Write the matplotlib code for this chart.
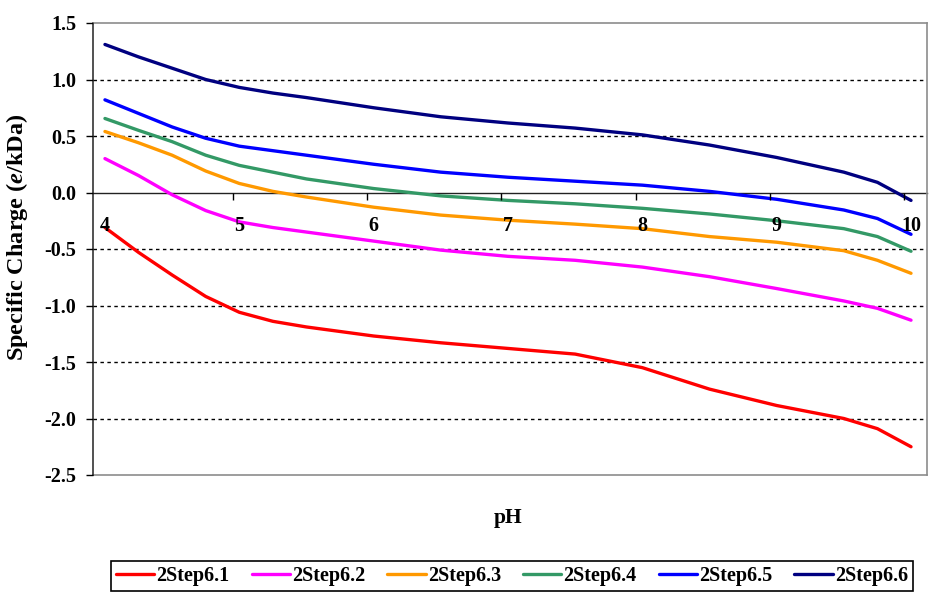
import matplotlib
matplotlib.use("Agg")
import matplotlib.pyplot as plt

# pH grid and specific charge (e/kDa) for each construct
ph = [4.0, 4.25, 4.5, 4.75, 5.0, 5.25, 5.5, 6.0, 6.5, 7.0, 7.5, 8.0, 8.5, 9.0, 9.5, 9.75, 10.0]

step6_1 = [-0.31, -0.53, -0.73, -0.92, -1.06, -1.14, -1.19, -1.27, -1.33, -1.38, -1.43, -1.55, -1.74, -1.885, -2.00, -2.09, -2.25]
step6_2 = [0.30, 0.15, -0.02, -0.16, -0.26, -0.31, -0.35, -0.43, -0.51, -0.565, -0.60, -0.66, -0.745, -0.85, -0.96, -1.025, -1.13]
step6_3 = [0.54, 0.44, 0.33, 0.19, 0.08, 0.01, -0.04, -0.13, -0.20, -0.245, -0.28, -0.32, -0.39, -0.44, -0.515, -0.60, -0.715]
step6_4 = [0.655, 0.55, 0.45, 0.33, 0.24, 0.18, 0.12, 0.035, -0.03, -0.07, -0.10, -0.14, -0.19, -0.25, -0.32, -0.39, -0.52]
step6_5 = [0.82, 0.70, 0.58, 0.48, 0.41, 0.37, 0.33, 0.25, 0.18, 0.135, 0.10, 0.065, 0.01, -0.06, -0.155, -0.23, -0.37]
step6_6 = [1.31, 1.20, 1.10, 1.00, 0.93, 0.88, 0.84, 0.75, 0.67, 0.615, 0.57, 0.51, 0.42, 0.31, 0.18, 0.09, -0.07]

series_names = ["2Step6.1", "2Step6.2", "2Step6.3", "2Step6.4", "2Step6.5", "2Step6.6"]
series_values = [step6_1, step6_2, step6_3, step6_4, step6_5, step6_6]
series_colors = ["#FF0000", "#FF00FF", "#FF9900", "#339966", "#0000FF", "#000080"]

x_ticks = [4, 5, 6, 7, 8, 9, 10]
y_ticks = [-2.5, -2.0, -1.5, -1.0, -0.5, 0.0, 0.5, 1.0, 1.5]
y_tick_labels = ["-2.5", "-2.0", "-1.5", "-1.0", "-0.5", "0.0", "0.5", "1.0", "1.5"]

serif = "Liberation Serif"
plt.rcParams["mathtext.fontset"] = "custom"
plt.rcParams["mathtext.it"] = "Liberation Serif:italic:bold"
plt.rcParams["mathtext.rm"] = "Liberation Serif:bold"

fig = plt.figure(figsize=(9.30, 5.92), dpi=100)
ax = fig.add_axes([93 / 930, 1 - 475 / 592, 834 / 930, 452 / 592])
ax.set_axisbelow(False)

y_min, y_max = -2.5, 1.5
ax.set_xlim(3.911, 10.119)
ax.set_ylim(y_min, y_max)

# dashed horizontal gridlines
for v in y_ticks:
    if v not in (y_min, 0.0, y_max):
        ax.axhline(v, color="black", lw=1.0, ls=(0, (2.5, 2.5)), zorder=1)

for vals, name, col in zip(series_values, series_names, series_colors):
    ax.plot(ph, vals, color=col, lw=2.4, label=name, zorder=2.2,
            solid_capstyle="round", solid_joinstyle="round")

# plot-area frame; the category axis runs through zero
frame_grey = "#8c8c8c"
for side in ("top", "right"):
    ax.spines[side].set_color(frame_grey)
    ax.spines[side].set_linewidth(1.2)
ax.plot([0, 1], [0, 0], transform=ax.transAxes, color=frame_grey, lw=1.2,
        clip_on=False, zorder=2)
ax.spines["left"].set_color("#333333")
ax.spines["left"].set_linewidth(1.2)
ax.spines["bottom"].set_position(("data", 0.0))
ax.spines["bottom"].set_color("#222222")
ax.spines["bottom"].set_linewidth(1.0)
ax.spines["bottom"].set_zorder(2.1)

ax.set_yticks(y_ticks)
ax.set_yticklabels(y_tick_labels, fontfamily=serif, fontweight="bold", fontsize=14.5)
ax.tick_params(axis="y", direction="out", length=5, width=1.0, pad=7)

ax.set_xticks(x_ticks)
ax.set_xticklabels([str(t) for t in x_ticks], fontfamily=serif, fontweight="bold", fontsize=14.5)
ax.tick_params(axis="x", which="major", length=0, pad=17)
ax.set_xticks([t + 0.95 for t in x_ticks[:-1]], minor=True)
ax.tick_params(axis="x", which="minor", direction="out", length=5, width=1.0)

ax.set_ylabel(r"Specific Charge ($e$/kDa)", fontfamily=serif, fontweight="bold", fontsize=17.5)
ax.yaxis.set_label_coords(-0.0755, 0.527)
fig.text(508 / 930, 1 - 518 / 592, "pH", fontfamily=serif, fontweight="bold", fontsize=15.5,
         ha="center", va="center")

leg = fig.legend(loc="center", bbox_to_anchor=(512 / 930, 1 - 576 / 592), ncol=6,
                 prop={"family": serif, "weight": "bold", "size": 14.5},
                 frameon=True, fancybox=False, edgecolor="black", framealpha=1,
                 handlelength=1.9, handletextpad=0.1, columnspacing=1.1,
                 borderpad=0.25)
leg.get_frame().set_linewidth(1.2)

fig.savefig("out.png", dpi=100)
